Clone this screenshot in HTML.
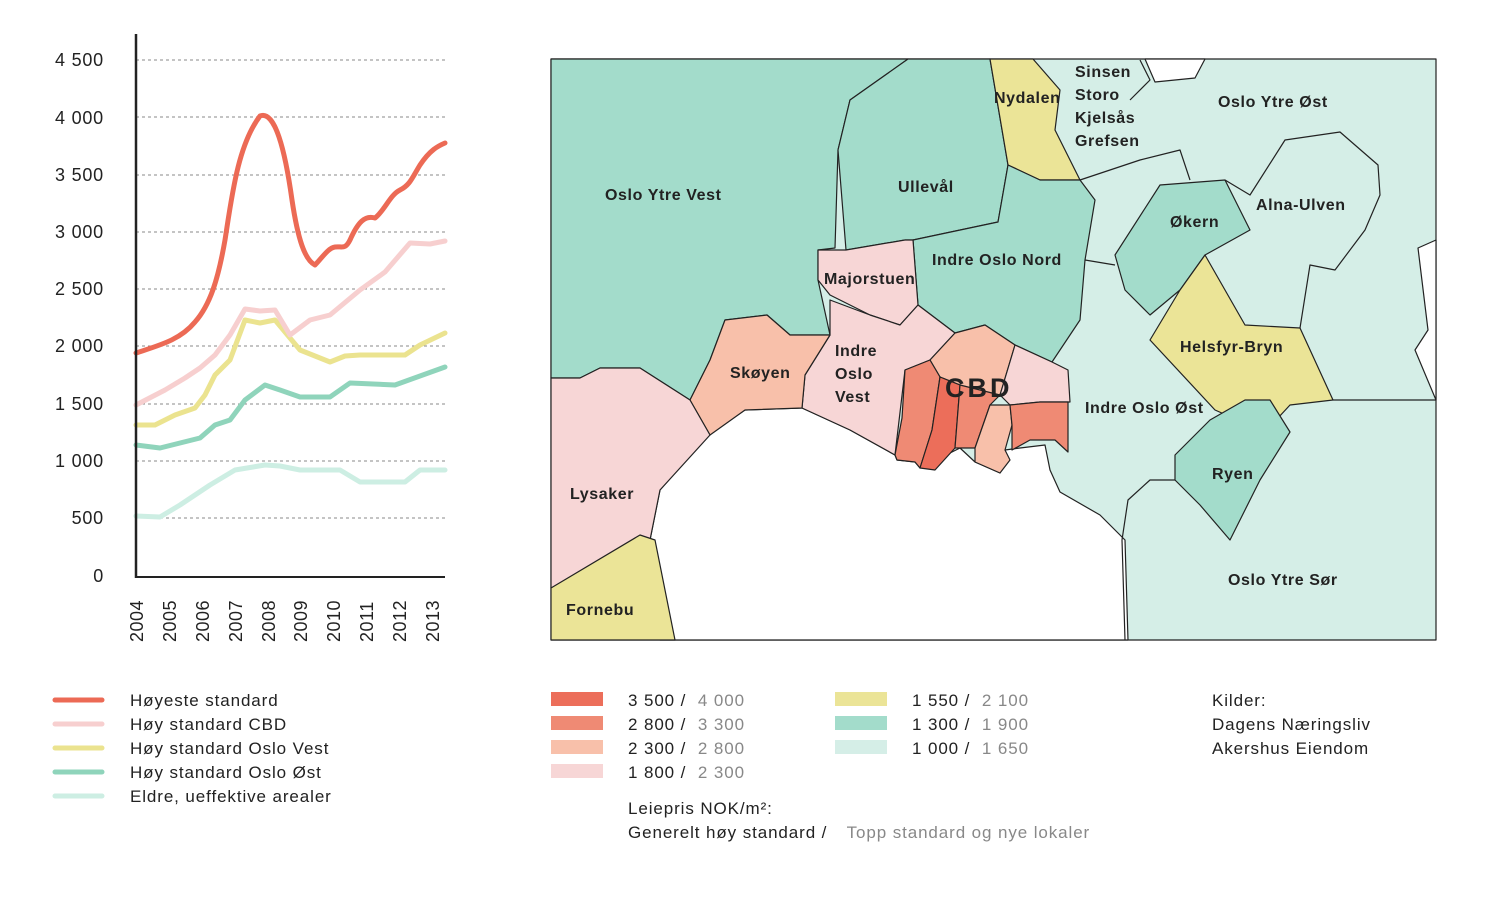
<!DOCTYPE html>
<html><head><meta charset="utf-8"><style>
body{margin:0;background:#fff;}
svg{display:block;font-family:"Liberation Sans",sans-serif;}
</style></head><body>
<svg width="1495" height="900" viewBox="0 0 1495 900">
<g stroke="#888" stroke-width="1" stroke-dasharray="3,3">
<line x1="136" y1="60" x2="445" y2="60"/><line x1="136" y1="117" x2="445" y2="117"/>
<line x1="136" y1="175" x2="445" y2="175"/><line x1="136" y1="232" x2="445" y2="232"/>
<line x1="136" y1="289" x2="445" y2="289"/><line x1="136" y1="346" x2="445" y2="346"/>
<line x1="136" y1="404" x2="445" y2="404"/><line x1="136" y1="461" x2="445" y2="461"/>
<line x1="136" y1="518" x2="445" y2="518"/>
</g>
<g font-size="18" fill="#222" text-anchor="end" letter-spacing="0.8">
<text x="104" y="66">4 500</text><text x="104" y="124">4 000</text><text x="104" y="181">3 500</text>
<text x="104" y="238">3 000</text><text x="104" y="295">2 500</text><text x="104" y="352">2 000</text>
<text x="104" y="410">1 500</text><text x="104" y="467">1 000</text><text x="104" y="524">500</text>
<text x="104" y="582">0</text>
</g>
<g fill="none" stroke-width="5" stroke-linejoin="round" stroke-linecap="round">
<polyline stroke="#cdeee3" points="136,516 160,517 180,505 210,485 235,470 265,465 280,466 300,470 340,470 360,482 385,482 405,482 420,470 445,470"/>
<polyline stroke="#8fd4bb" points="136,445 160,448 180,443 200,438 215,425 230,420 245,400 265,385 280,390 300,397 330,397 350,383 395,385 445,367"/>
<polyline stroke="#ebe38f" points="136,425 155,425 175,415 195,408 205,395 215,375 230,360 245,320 260,323 275,320 300,350 330,362 345,356 360,355 380,355 405,355 420,345 445,333"/>
<polyline stroke="#f7cfcf" points="136,405 165,390 185,378 200,368 215,355 230,335 245,309 260,311 275,310 290,335 310,320 330,315 360,290 385,272 410,243 430,244 445,241"/>
<path stroke="#ec6a55" d="M136,353 C160,345 180,340 195,322 C210,305 218,280 225,240 C232,195 238,145 260,116 C275,110 285,150 292,200 C298,240 305,260 315,265 C322,258 328,248 335,247 C342,246 345,250 350,240 C358,222 365,215 375,218 C385,210 390,195 400,190 C410,185 412,178 420,165 C430,150 438,146 445,143"/>
</g>
<line x1="136" y1="34" x2="136" y2="578" stroke="#222" stroke-width="2.5"/>
<line x1="135" y1="577" x2="445" y2="577" stroke="#222" stroke-width="2"/>
<g font-size="18" fill="#222" letter-spacing="0.5">
<text transform="translate(143,642) rotate(-90)">2004</text><text transform="translate(176,642) rotate(-90)">2005</text><text transform="translate(209,642) rotate(-90)">2006</text><text transform="translate(242,642) rotate(-90)">2007</text><text transform="translate(275,642) rotate(-90)">2008</text><text transform="translate(307,642) rotate(-90)">2009</text><text transform="translate(340,642) rotate(-90)">2010</text><text transform="translate(373,642) rotate(-90)">2011</text><text transform="translate(406,642) rotate(-90)">2012</text><text transform="translate(439,642) rotate(-90)">2013</text>
</g>

<g stroke="#222" stroke-width="1.2" stroke-linejoin="round">
<rect x="551" y="59" width="885" height="581" fill="#d5eee7"/>
<polygon fill="#fff" points="1145,59 1205,59 1195,78 1155,82"/>
<polygon fill="#fff" points="1436,240 1418,248 1428,330 1415,350 1436,400"/>
<polygon fill="#fff" points="660,640 650,540 660,490 708,435 745,410 802,408 850,430 895,455 897,460 915,462 920,468 960,448 975,462 1000,473 1005,450 1020,448 1045,445 1050,470 1060,492 1100,515 1125,540 1128,640"/>
<polygon fill="#a3dccb" points="551,59 908,59 850,100 838,150 835,248 818,250 818,280 830,335 790,335 767,315 725,320 710,360 690,400 640,368 600,368 580,378 551,378"/>
<polygon fill="#a3dccb" points="908,59 990,59 1008,165 998,222 913,240 905,240 846,250 838,150 850,100"/>
<polygon fill="#ebe497" points="990,59 1033,59 1060,90 1055,130 1080,180 1040,180 1008,165"/>
<polygon fill="#a3dccb" points="1008,165 1040,180 1080,180 1095,200 1085,260 1080,320 1052,362 1015,345 985,325 955,333 918,305 913,240 998,222"/>
<polygon fill="#f7d6d6" points="818,250 846,250 905,240 913,240 918,305 900,325 870,315 830,295 818,280"/>
<polygon fill="#f7d6d6" points="830,300 870,315 900,325 918,305 955,333 930,360 905,370 895,455 850,430 802,408 805,375 830,335"/>
<polygon fill="#f8c0aa" points="725,320 767,315 790,335 830,335 805,375 802,408 745,410 710,435 690,400 710,360"/>
<polygon fill="#f7d6d6" points="551,378 580,378 600,368 620,368 640,368 690,400 710,435 660,490 650,540 551,588"/>
<polygon fill="#ebe497" points="551,588 640,535 655,540 675,640 551,640"/>
<polygon fill="#f8c0aa" points="930,360 955,333 985,325 1015,345 1000,395 985,395 940,377"/>
<polygon fill="#f7d6d6" points="1015,345 1052,362 1068,370 1070,402 1040,402 1010,405 1000,395"/>
<polygon fill="#ef8a74" points="905,370 930,360 940,377 932,430 920,468 915,462 897,460 895,455 902,418"/>
<polygon fill="#ec6e5a" points="940,377 960,385 955,448 935,470 920,468 932,430"/>
<polygon fill="#ef8a74" points="960,385 1000,395 990,405 975,448 955,448"/>
<polygon fill="#f8c0aa" points="990,405 1010,405 1012,425 1005,450 1010,460 1000,473 975,462 975,448"/>
<polygon fill="#ef8a74" points="1010,405 1040,402 1068,402 1068,452 1055,440 1030,440 1012,450 1012,425"/>
<polygon fill="#a3dccb" points="1115,255 1160,185 1225,180 1250,230 1205,255 1180,290 1150,315 1125,290"/>
<polygon fill="#ebe497" points="1150,340 1180,290 1205,255 1245,325 1300,328 1333,400 1290,405 1265,432 1215,410"/>
<polygon fill="#a3dccb" points="1175,455 1210,420 1245,400 1270,400 1290,432 1260,480 1230,540 1200,505 1175,480"/>
<g fill="none">
<polyline points="1080,180 1140,160 1180,150 1190,180"/>
<polyline points="1085,260 1115,265"/>
<polyline points="1225,180 1250,195 1285,140 1340,132 1378,165 1380,195 1365,230 1335,270 1310,265 1300,328"/>
<polyline points="1333,400 1436,400"/>
<polyline points="1175,480 1150,480 1128,500 1122,540 1125,640"/>
<polyline points="1140,60 1150,80 1130,100"/>
</g>
</g>
<g font-size="16" fill="#222" font-weight="bold" letter-spacing="0.6">
<text x="605" y="200">Oslo Ytre Vest</text>
<text x="898" y="192">Ullevål</text>
<text x="994" y="103">Nydalen</text>
<text x="1075" y="77">Sinsen</text><text x="1075" y="100">Storo</text><text x="1075" y="123">Kjelsås</text><text x="1075" y="146">Grefsen</text>
<text x="1218" y="107">Oslo Ytre Øst</text>
<text x="1256" y="210">Alna-Ulven</text>
<text x="1170" y="227">Økern</text>
<text x="932" y="265">Indre Oslo Nord</text>
<text x="824" y="284">Majorstuen</text>
<text x="1180" y="352">Helsfyr-Bryn</text>
<text x="730" y="378">Skøyen</text>
<text x="835" y="356">Indre</text><text x="835" y="379">Oslo</text><text x="835" y="402">Vest</text>
<text x="1085" y="413">Indre Oslo Øst</text>
<text x="1212" y="479">Ryen</text>
<text x="570" y="499">Lysaker</text>
<text x="1228" y="585">Oslo Ytre Sør</text>
<text x="566" y="615">Fornebu</text>
<text x="945" y="397" font-size="27" letter-spacing="3">CBD</text>
</g>

<g stroke-width="5" stroke-linecap="round">
<line x1="55" y1="700" x2="102" y2="700" stroke="#ec6a55"/>
<line x1="55" y1="724" x2="102" y2="724" stroke="#f7cfcf"/>
<line x1="55" y1="748" x2="102" y2="748" stroke="#ebe38f"/>
<line x1="55" y1="772" x2="102" y2="772" stroke="#8fd4bb"/>
<line x1="55" y1="796" x2="102" y2="796" stroke="#cdeee3"/>
</g>
<g font-size="17" fill="#222" letter-spacing="0.9">
<text x="130" y="706">Høyeste standard</text>
<text x="130" y="730">Høy standard CBD</text>
<text x="130" y="754">Høy standard Oslo Vest</text>
<text x="130" y="778">Høy standard Oslo Øst</text>
<text x="130" y="802">Eldre, ueffektive arealer</text>
</g>
<rect x="551" y="692" width="52" height="14" fill="#ec6e5a"/>
<rect x="551" y="716" width="52" height="14" fill="#ef8a74"/>
<rect x="551" y="740" width="52" height="14" fill="#f8c0aa"/>
<rect x="551" y="764" width="52" height="14" fill="#f7d6d6"/>
<rect x="835" y="692" width="52" height="14" fill="#ebe497"/>
<rect x="835" y="716" width="52" height="14" fill="#a3dccb"/>
<rect x="835" y="740" width="52" height="14" fill="#d5eee7"/>
<g font-size="17" fill="#222" letter-spacing="0.9">
<text x="628" y="706">3 500 / <tspan fill="#888" dx="6">4 000</tspan></text>
<text x="628" y="730">2 800 / <tspan fill="#888" dx="6">3 300</tspan></text>
<text x="628" y="754">2 300 / <tspan fill="#888" dx="6">2 800</tspan></text>
<text x="628" y="778">1 800 / <tspan fill="#888" dx="6">2 300</tspan></text>
<text x="912" y="706">1 550 / <tspan fill="#888" dx="6">2 100</tspan></text>
<text x="912" y="730">1 300 / <tspan fill="#888" dx="6">1 900</tspan></text>
<text x="912" y="754">1 000 / <tspan fill="#888" dx="6">1 650</tspan></text>
<text x="628" y="814">Leiepris NOK/m²:</text>
<text x="628" y="838">Generelt høy standard / <tspan fill="#888" dx="14">Topp standard og nye lokaler</tspan></text>
<text x="1212" y="706">Kilder:</text>
<text x="1212" y="730">Dagens Næringsliv</text>
<text x="1212" y="754">Akershus Eiendom</text>
</g>
</svg>
</body></html>
